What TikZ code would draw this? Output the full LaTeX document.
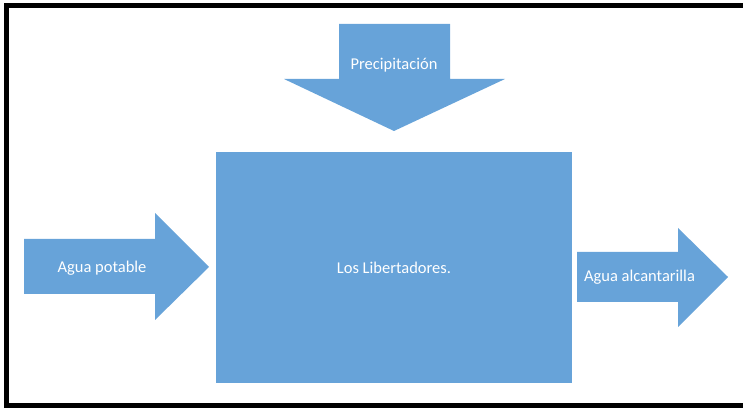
\documentclass[tikz,border=0pt]{standalone}
\usepackage{fontspec}
\setmainfont{Carlito}
\usepackage{xcolor}
\usepackage{tikz}
\usetikzlibrary{positioning}

\definecolor{azul}{RGB}{103,163,217}

\begin{document}
\begin{tikzpicture}[
  x=1pt, y=1pt,
  every node/.style={font=\fontsize{16.5}{19}\selectfont},
  bloque/.style={fill=azul, draw=none, rectangle, inner sep=0pt},
  flecha/.style={fill=azul, draw=none},
  lbl/.style={text=white, inner sep=0pt},
  marco/.style={draw=black, line width=5pt},
]
\useasboundingbox (0,0) rectangle (743,409);

% frame, open on the right
\draw[marco] (760,403.5) -- (6.5,403.5) -- (6.5,3.5) -- (760,3.5);

% central block
\node[bloque, minimum width=356pt, minimum height=230.5pt] (barrio) at (394,141.25) {};
\node[lbl] (nombre) at (394,141) {Los Libertadores.};

% block arrows
\fill[flecha] (339,385) -- (450,385) -- (450,330) -- (505,330)
  -- (394,278) -- (284,330) -- (339,330) -- cycle;
\fill[flecha] (24,170) -- (155,170) -- (155,196) -- (209,142)
  -- (155,89) -- (155,115) -- (24,115) -- cycle;
\fill[flecha] (577,157) -- (678,157) -- (678,181) -- (728,132)
  -- (678,82) -- (678,107) -- (577,107) -- cycle;

\node[lbl] (prec)  at (394,344)   {Precipitación};
\node[lbl] (pot)   at (102,141)   {Agua potable};
\node[lbl] (alc)   at (639.5,132) {Agua alcantarilla};
\end{tikzpicture}
\end{document}
